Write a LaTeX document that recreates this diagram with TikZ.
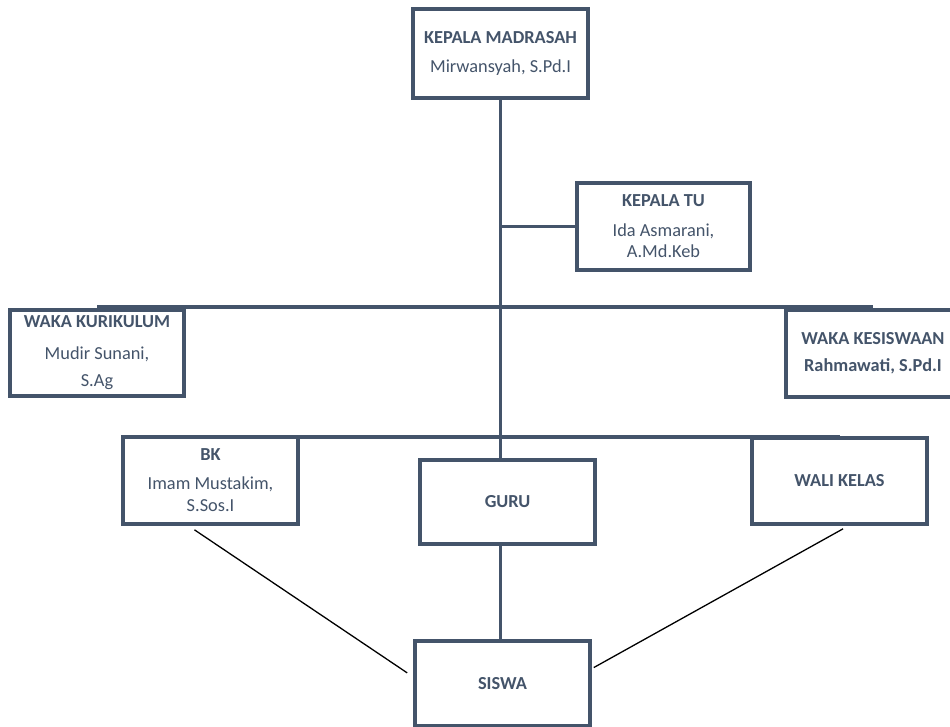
\documentclass[tikz,border=0pt]{standalone}
\usepackage{fontspec}
\setmainfont{Carlito}
\usetikzlibrary{calc}
\definecolor{slate}{HTML}{44546A}
\tikzset{
  orgbox/.style={draw=slate, line width=3.6bp, fill=white, minimum width=175bp, minimum height=87bp,
    inner sep=0pt, align=center, text=slate, font=\fontsize{18.4}{22}\selectfont},
  link/.style={draw=slate, line width=3.2bp},
  diag/.style={draw=black, line width=1.3bp}
}
\begin{document}
\begin{tikzpicture}[x=1bp,y=-1bp]
\clip (0,0) rectangle (950,727);
\fill[white] (0,0) rectangle (950,727);
% connectors behind boxes
\coordinate (h1l) at (97,307);
\coordinate (h1r) at (873,307);
\coordinate (h2l) at (210.5,437);
\coordinate (h2r) at (839.5,437);
\draw[link] (h1l) -- (h1r);
\draw[link] (h2l) -- (h2r);

\node[orgbox, minimum height=89bp] (km) at (500.5,53.5) {\textbf{KEPALA MADRASAH}\\[8bp]Mirwansyah, S.Pd.I};
\node[orgbox, minimum width=173bp] (tu) at (663.5,226.5) {\textbf{KEPALA TU}\\[8bp]Ida Asmarani,\\[-1bp]A.Md.Keb};
\node[orgbox, minimum width=174bp, minimum height=86bp] (kur) at (97,353) {\textbf{WAKA KURIKULUM}\\[10bp]Mudir Sunani,\\[5bp]S.Ag};
\node[orgbox, minimum width=174bp] (kes) at (873,353.5) {\textbf{WAKA KESISWAAN}\\[5bp]\textbf{Rahmawati, S.Pd.I}};
\node[orgbox] (bk) at (210.5,480.5) {\textbf{BK}\\[7bp]Imam Mustakim,\\S.Sos.I};
\node[orgbox, minimum height=84bp] (guru) at (507.5,502) {\textbf{GURU}};
\node[orgbox, minimum height=86bp] (wali) at (839.5,481) {\textbf{WALI KELAS}};
\node[orgbox, minimum height=85bp] (siswa) at (502.5,683.5) {\textbf{SISWA}};

\draw[link] (km.south) -- (km.south |- guru.north);
\draw[link] (km.south |- tu.west) -- (tu.west);
\draw[link] (km.south |- guru.south) -- (km.south |- siswa.north);

\coordinate (bkd) at ($(bk.south west)!0.41!(bk.south east)+(0,4)$);
\coordinate (sl) at ($(siswa.north west)!0.38!(siswa.south west)+(-6,0)$);
\coordinate (wd) at ($(wali.south west)!0.52!(wali.south east)+(0,3)$);
\coordinate (sr) at ($(siswa.north east)!0.32!(siswa.south east)+(2,0)$);
\draw[diag] (bkd) -- (sl);
\draw[diag] (wd) -- (sr);
\end{tikzpicture}
\end{document}
